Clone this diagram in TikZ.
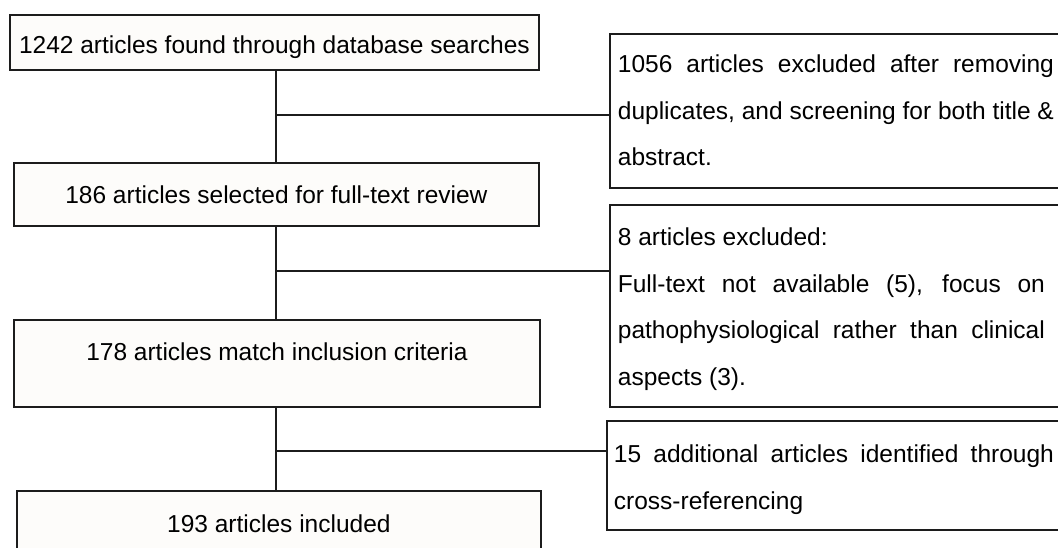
\documentclass[tikz,border=0pt]{standalone}
\usepackage{fontspec}
\setmainfont{Liberation Sans}
\usepackage{tikz}
\definecolor{edgecolor}{RGB}{28,28,28}
\definecolor{boxfill}{RGB}{253,252,250}
\tikzset{
  % stage boxes down the left column
  stagebox/.style={draw=edgecolor, fill=boxfill, line width=1.8pt,
    anchor=north west, inner xsep=0pt, inner ysep=0pt},
  % exclusion / addition notes on the right
  notebox/.style={draw=edgecolor, fill=white, line width=1.8pt,
    anchor=north west, inner ysep=0pt},
  % plain connector lines
  linkln/.style={draw=edgecolor, line width=1.8pt},
}
\begin{document}
\begin{tikzpicture}[x=1pt, y=-1pt, font=\fontsize{24.5pt}{46.5pt}\selectfont]
    \useasboundingbox (0,0) rectangle (1058,547);
    \clip (0,0) rectangle (1058,547);
    % junctions on the spine
    \coordinate (j1) at (276,115);
    \coordinate (j2) at (276,271);
    \coordinate (j3) at (276,451);
    % left column
    \node[stagebox, minimum width=529pt, text height=39pt, text depth=16pt] (found) at (9,14)
      {1242 articles found through database searches};
    \node[stagebox, minimum width=525pt, text height=41pt, text depth=22pt] (selected) at (13,162)
      {186 articles selected for full-text review};
    \node[stagebox, minimum width=526pt, text height=41pt, text depth=46pt] (eligible) at (13,319)
      {178 articles match inclusion criteria};
    \node[stagebox, minimum width=524pt, text height=42pt, text depth=40pt] (included) at (16,490)
      {193 articles included};
    % right column
    \node[notebox, inner xsep=8pt, text height=39pt, text depth=115pt] (dupes) at (609,33)
      {\parbox[t]{436pt}{1056 articles excluded after removing\linebreak
       duplicates, and screening for both title \&\linebreak abstract.}};
    \node[notebox, inner xsep=8pt, text height=41pt, text depth=161pt] (notavail) at (609,204)
      {\parbox[t]{436pt}{\rightskip=9pt\relax 8 articles excluded:\par
       Full-text not available (5), focus on\linebreak
       pathophysiological rather than clinical\linebreak aspects (3).}};
    \node[notebox, inner xsep=7pt, text height=42pt, text depth=67pt] (crossref) at (606,420)
      {\parbox[t]{440pt}{15 additional articles identified through\linebreak
       cross-referencing}};
    % spine and branches
    \draw[linkln] (found.south -| j1) -- (selected.north -| j1);
    \draw[linkln] (selected.south -| j2) -- (eligible.north -| j2);
    \draw[linkln] (eligible.south -| j3) -- (included.north -| j3);
    \draw[linkln] (j1) -- (j1 -| dupes.west);
    \draw[linkln] (j2) -- (j2 -| notavail.west);
    \draw[linkln] (j3) -- (j3 -| crossref.west);
\end{tikzpicture}
\end{document}
